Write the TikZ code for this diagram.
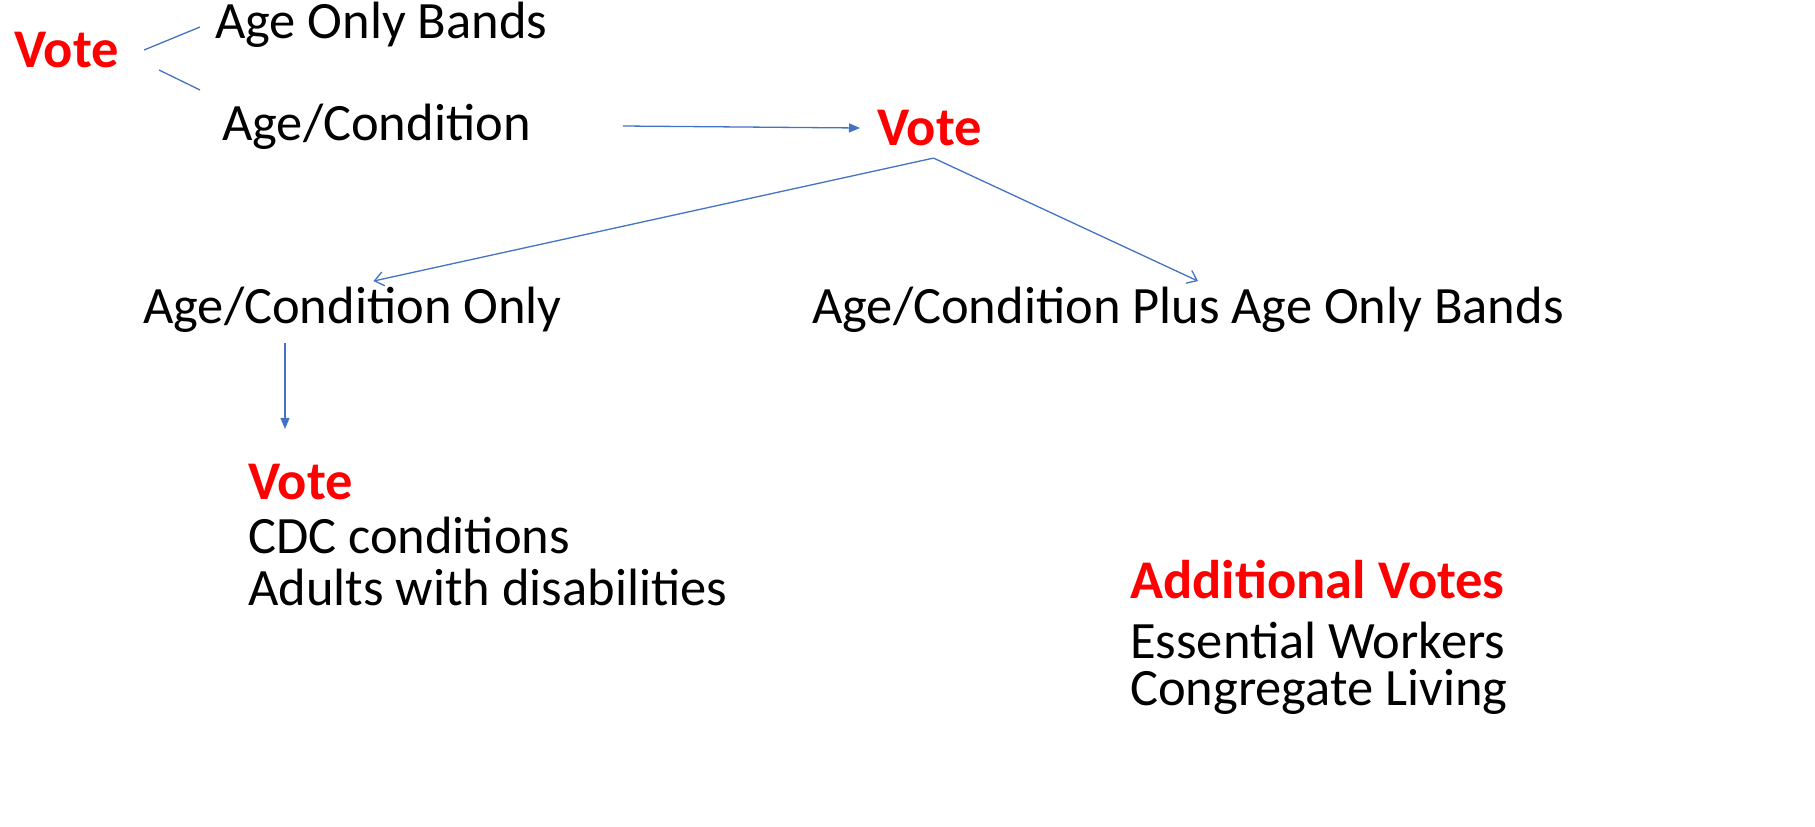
\documentclass[tikz,border=0pt]{standalone}
\usepackage{fontspec}
\setmainfont{Carlito}
\usetikzlibrary{arrows.meta,calc}
\definecolor{votered}{RGB}{255,0,0}
\definecolor{linkblue}{RGB}{68,114,196}
\tikzset{
  lbl/.style={anchor=west,inner sep=0pt,font=\fontsize{52.5}{62}\selectfont},
  vote/.style={lbl,text=votered,font=\fontsize{54.5}{64}\selectfont\bfseries},
  link/.style={draw=linkblue,line width=1.3pt},
  solidtip/.style={link,-{Triangle[length=11pt,width=9pt]}},
  opentip/.style={link,-{Straight Barb[length=9pt,width=14pt,line width=1.3pt]}}
}
\begin{document}
\begin{tikzpicture}[x=1pt,y=-1pt]
\useasboundingbox (0,0) rectangle (1815,827);
\node[vote] (v1) at (14,50) {Vote};
\node[lbl] (aob) at (215,25) {Age Only Bands};
\node[lbl] (ac) at (222,127) {Age/Condition};
\node[vote] (v2) at (877,128) {Vote};
\node[lbl] (aco) at (143,310) {Age/Condition Only};
\node[lbl] (acp) at (812,310) {Age/Condition Plus Age Only Bands};
\node[vote] (v3) at (248,482) {Vote};
\node[lbl] (cdc) at (248,535) {CDC conditions};
\node[lbl] (adw) at (248,587) {Adults with disabilities};
\node[vote] (av) at (1130,580) {Additional Votes};
\node[lbl] (ew) at (1130,640) {Essential Workers};
\node[lbl] (cl) at (1130,692) {Congregate Living};
\coordinate (v1a) at ($(v1.east)+(25,0)$);
\coordinate (v1b) at ($(v1.east)+(40,20)$);
\coordinate (aobw) at ($(aob.west)+(-15,2)$);
\coordinate (acw) at ($(ac.west)+(-22,-37)$);
\coordinate (v2s) at ($(v2.south)+(4,12)$);
\draw[link] (v1a) -- (aobw);
\draw[link] (v1b) -- (acw);
\draw[solidtip] ($(ac.east)+(92,-1)$) -- ($(v2.west)+(-17,0)$);
\draw[opentip] (v2s) -- ($(aco.north)+(21,-6)$);
\draw[opentip] (v2s) -- ($(acp.north)+(10,-6)$);
\draw[solidtip] ($(aco.south west)+(142,10)$) -- ($(v3.north west)+(37,-35)$);
\end{tikzpicture}
\end{document}
